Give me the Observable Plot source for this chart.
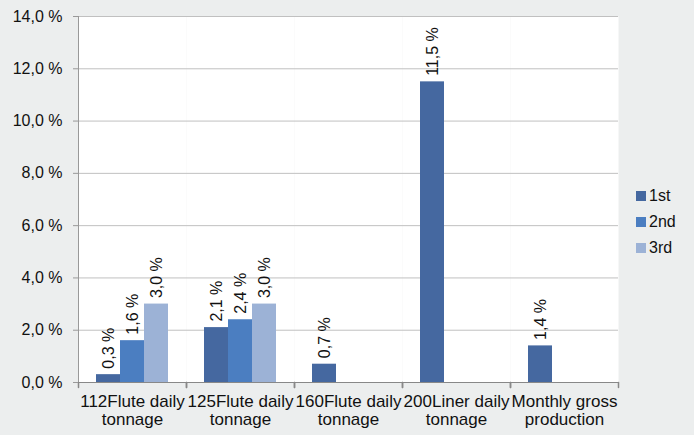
<!DOCTYPE html>
<html><head><meta charset="utf-8">
<script src="https://cdn.jsdelivr.net/npm/d3@7"></script>
<script src="https://cdn.jsdelivr.net/npm/@observablehq/plot@0.6"></script>
<style>
body{margin:0;background:#eceeee;font-family:"Liberation Sans",Arial,sans-serif;}
#wrap{position:relative;width:694px;height:435px;overflow:hidden;}
#legend{position:absolute;left:636px;top:183px;font-size:16px;color:#111;}
.item{display:flex;align-items:center;height:26px;}
.sw{width:10px;height:10px;margin-right:3px;}
</style></head><body><div id="wrap"><div id="legend"></div></div>
<script>
const categories = ["112Flute daily tonnage", "125Flute daily tonnage", "160Flute daily tonnage", "200Liner daily tonnage", "Monthly gross production"];
const categoryLabels = ["112Flute daily\ntonnage", "125Flute daily\ntonnage", "160Flute daily\ntonnage", "200Liner daily\ntonnage", "Monthly gross\nproduction"];
const series = ["1st", "2nd", "3rd"];
const colors = ["#4568a0", "#4b7ec1", "#9cb2d6"];
const values1st = [0.3, 2.1, 0.7, 11.5, 1.4];
const values2nd = [1.6, 2.4, null, null, null];
const values3rd = [3.0, 3.0, null, null, null];
const yTicks = [0, 2, 4, 6, 8, 10, 12, 14];

const seriesValues = [values1st, values2nd, values3rd];
const data = [];
categories.forEach((c, i) => {
  series.forEach((s, j) => {
    const v = seriesValues[j][i];
    if (v != null) data.push({category: c, series: s, value: v});
  });
});
const fmt = v => v.toFixed(1).replace(".", ",") + " %";
const tickShape = {draw(context, length) { context.moveTo(0, 0); context.lineTo(0, -length); }};

const plot = Plot.plot({
  width: 694, height: 435,
  marginLeft: 77, marginRight: 75, marginTop: 16, marginBottom: 53,
  style: {background: "transparent", fontFamily: "'Liberation Sans', Arial, sans-serif", fontSize: "16px", color: "#111", overflow: "visible"},
  fx: {domain: categories, paddingInner: 0, paddingOuter: 0, label: null},
  x: {domain: series, paddingInner: 0, paddingOuter: 0.75, axis: null},
  y: {domain: [0, 14], label: null},
  color: {domain: series, range: colors},
  marks: [
    Plot.frame({fill: "white", stroke: null}),
    Plot.gridY(yTicks, {stroke: "#c0c0c0", strokeOpacity: 1}),
    Plot.barY(data, {fx: "category", x: "series", y: "value", fill: "series"}),
    Plot.text(data, {fx: "category", x: "series", y: "value", text: d => fmt(d.value), rotate: -90, textAnchor: "start", dy: -6, fontSize: 16, fill: "#111"}),
    Plot.frame({anchor: "left", stroke: "#999", facetAnchor: "left"}),
    Plot.frame({anchor: "bottom", stroke: "#888"}),
    Plot.vector(categories, {fx: d => d, frameAnchor: "bottom-left", length: 5, rotate: 180, anchor: "start", shape: tickShape, stroke: "#888"}),
    Plot.vector(categories, {fx: d => d, frameAnchor: "bottom-right", length: 5, rotate: 180, anchor: "start", shape: tickShape, stroke: "#888"}),
    Plot.axisY(yTicks, {tickFormat: fmt, tickSize: 5, tickPadding: 11, stroke: "#999", fill: "#111", fontSize: 16, label: null}),
    Plot.axisFx({anchor: "bottom", tickSize: 0, tickPadding: 11, tickFormat: d => categoryLabels[categories.indexOf(d)], fontSize: 17, lineHeight: 1.1, fill: "#111", label: null})
  ]
});
document.getElementById("wrap").prepend(plot);

const legend = d3.select("#legend");
series.forEach((s, i) => {
  const it = legend.append("div").attr("class", "item");
  it.append("div").attr("class", "sw").style("background", colors[i]);
  it.append("span").text(s);
});
</script>
</body></html>
